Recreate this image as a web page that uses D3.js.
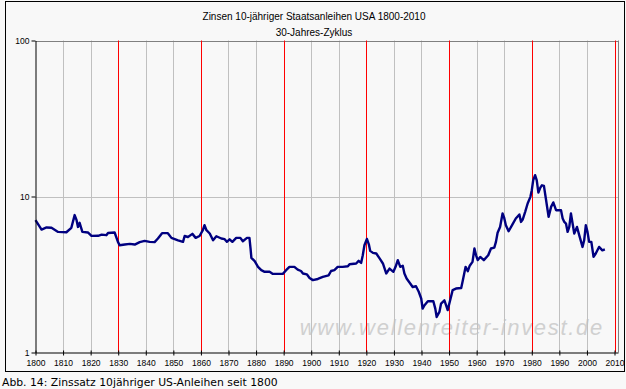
<!DOCTYPE html>
<html>
<head>
<meta charset="utf-8">
<script src="https://cdn.jsdelivr.net/npm/d3@7"></script>
<style>
  html, body { margin: 0; padding: 0; background: #f8f8f8; }
  svg { display: block; }
</style>
</head>
<body>
<svg id="chart" width="626" height="389"></svg>
<script>
// ---- DATA ----
const years = [
  1800, 1802.2, 1804, 1805.8, 1808.2, 1811.2, 1813, 1814.2, 1814.9, 1815.4,
  1816, 1817, 1819, 1820.3, 1822.7, 1824, 1825.7, 1826.3, 1828.7, 1829.9,
  1830.5, 1832.4, 1834.2, 1836, 1837.8, 1839.6, 1841.4, 1843.2, 1844.4, 1845.9,
  1848, 1849.3, 1851.7, 1853.5, 1854.1, 1855.3, 1856.9, 1858.1, 1859.5, 1860.7,
  1861.3, 1862, 1863.2, 1864.4, 1865.6, 1867.4, 1868.6, 1869.4, 1870.4, 1871.4,
  1872.8, 1874.3, 1875.2, 1876.7, 1877.6, 1878, 1878.3, 1879.5, 1880.7, 1881.9,
  1883.1, 1884.9, 1886.1, 1889.7, 1890.9, 1892.1, 1893.9, 1895.1, 1896.3, 1897,
  1898.4, 1899.4, 1900.6, 1902.4, 1904.2, 1906.3, 1907.2, 1908.4, 1909.6, 1911.4,
  1913.3, 1913.9, 1916.3, 1917.2, 1918.1, 1918.7, 1919.3, 1920.2, 1920.9, 1921.4,
  1922.4, 1923.6, 1924.8, 1926, 1927.2, 1928.4, 1929.8, 1930.6, 1931.4, 1932.3,
  1933.2, 1933.8, 1934.6, 1935.9, 1936.8, 1938, 1939, 1939.9, 1940.4, 1941.1,
  1942.3, 1944.3, 1945, 1945.5, 1946.5, 1947.1, 1948.3, 1948.9, 1949.5, 1950.1,
  1951.3, 1952.5, 1954.4, 1955, 1956, 1956.8, 1957.5, 1958.5, 1959.2, 1959.8,
  1960.4, 1961.3, 1962.6, 1964.2, 1965.2, 1966.4, 1967, 1967.6, 1968.5, 1969.4,
  1970, 1970.6, 1971.6, 1973, 1974.2, 1975.5, 1976.1, 1976.7, 1977.6, 1978.5,
  1979.5, 1980, 1980.5, 1981.2, 1981.8, 1982.4, 1983.1, 1983.7, 1984.4, 1985.1,
  1986.1, 1987, 1987.8, 1988.8, 1990.6, 1991.2, 1991.8, 1992.4, 1993, 1993.6,
  1994.2, 1994.8, 1995.4, 1996.4, 1997.2, 1998.4, 1999, 1999.6, 2000.2, 2000.8,
  2001.6, 2002.4, 2003.2, 2004.4, 2005.6, 2006.5
];
const yields = [
  7.05, 6.14, 6.33, 6.3, 5.93, 5.9, 6.3, 7.6, 7.05, 6.38,
  6.78, 5.93, 5.88, 5.59, 5.6, 5.7, 5.65, 5.84, 5.88, 5.12,
  4.87, 4.92, 4.97, 4.92, 5.1, 5.19, 5.12, 5.1, 5.38, 5.82,
  5.82, 5.43, 5.24, 5.12, 5.58, 5.5, 5.76, 5.43, 5.58, 6.08,
  6.55, 6.08, 5.79, 5.24, 5.56, 5.38, 5.33, 5.12, 5.32, 5.12,
  5.43, 5.43, 5.17, 5.43, 5.43, 4.64, 4.04, 3.85, 3.54, 3.37,
  3.29, 3.29, 3.19, 3.19, 3.37, 3.54, 3.54, 3.4, 3.33, 3.21,
  3.17, 3.0, 2.91, 2.96, 3.05, 3.12, 3.33, 3.37, 3.54, 3.54,
  3.57, 3.68, 3.72, 3.87, 3.75, 4.2, 4.87, 5.35, 4.94, 4.48,
  4.35, 4.31, 4.01, 3.72, 3.21, 3.45, 3.29, 3.54, 3.91, 3.54,
  3.6, 3.21, 2.98, 2.77, 2.63, 2.66, 2.45, 2.22, 1.91, 2.01,
  2.13, 2.13, 1.91, 1.69, 1.82, 2.06, 2.16, 2.01, 1.87, 2.06,
  2.51, 2.57, 2.59, 2.91, 3.54, 3.32, 3.6, 3.81, 4.64, 4.2,
  3.91, 4.1, 3.91, 4.2, 4.64, 4.7, 5.12, 5.85, 6.38, 7.78,
  7.29, 6.55, 5.99, 6.62, 7.23, 7.67, 6.87, 7.12, 7.97, 9.02,
  9.95, 10.97, 12.7, 13.7, 12.7, 10.6, 11.4, 11.8, 11.7, 9.71,
  7.4, 8.58, 9.16, 8.17, 8.17, 7.23, 6.87, 6.71, 5.93, 6.38,
  7.78, 6.71, 5.79, 6.38, 5.65, 4.75, 5.24, 6.55, 5.93, 5.12,
  5.12, 4.1, 4.31, 4.75, 4.52, 4.58
];
const xTicks = d3.range(1800, 2011, 10);
const cycleYears = [1830, 1860, 1890, 1920, 1950, 1980, 2010];
const yTicks = [1, 10, 100];
const titleLines = ["Zinsen 10-jähriger Staatsanleihen USA 1800-2010", "30-Jahres-Zyklus"];
const caption = "Abb. 14: Zinssatz 10jähriger US-Anleihen seit 1800";
const watermark = "www.wellenreiter-invest.de";

// ---- LAYOUT ----
const svg = d3.select("#chart");
const plot = { left: 35.5, right: 618.5, top: 40.5, bottom: 352.5 };
const font = "'Liberation Sans', Arial, sans-serif";

const x = d3.scaleLinear().domain([1800, 2010]).range([plot.left, 614.5]);
const y = d3.scaleLog().domain([1, 100]).range([plot.bottom, plot.top]);

// outer frame
svg.append("rect")
  .attr("x", 5.5).attr("y", 1.5)
  .attr("width", 619).attr("height", 370)
  .attr("fill", "#f8f8f8")
  .attr("stroke", "#000")
  .attr("stroke-width", 1);

// title
svg.selectAll("text.title")
  .data(titleLines)
  .join("text")
  .attr("class", "title")
  .attr("x", 314)
  .attr("y", (d, i) => 20 + i * 15.5)
  .attr("text-anchor", "middle")
  .attr("font-family", font)
  .attr("font-size", 10)
  .text(d => d);

// watermark
svg.append("text")
  .attr("x", 604)
  .attr("y", 335)
  .attr("text-anchor", "end")
  .attr("font-family", font)
  .attr("font-style", "italic")
  .attr("font-size", 22)
  .attr("letter-spacing", 1.7)
  .attr("fill", "#d0d0d0")
  .text(watermark);

// vertical grid
svg.append("g")
  .selectAll("line")
  .data(xTicks.filter(d => d > 1800 && !cycleYears.includes(d)))
  .join("line")
  .attr("x1", d => Math.round(x(d)) + 0.5)
  .attr("x2", d => Math.round(x(d)) + 0.5)
  .attr("y1", plot.top)
  .attr("y2", plot.bottom)
  .attr("stroke", "#c0c0c0");

// horizontal grid
svg.append("g")
  .selectAll("line")
  .data(yTicks.filter(d => d > 1))
  .join("line")
  .attr("x1", plot.left)
  .attr("x2", plot.right)
  .attr("y1", d => Math.round(y(d)) + 0.5)
  .attr("y2", d => Math.round(y(d)) + 0.5)
  .attr("stroke", d => d === 100 ? "#808080" : "#c0c0c0");

// right edge of plot
svg.append("line")
  .attr("x1", plot.right).attr("x2", plot.right)
  .attr("y1", plot.top).attr("y2", plot.bottom)
  .attr("stroke", "#808080");

// 30-year cycle lines
svg.append("g")
  .selectAll("line")
  .data(cycleYears)
  .join("line")
  .attr("x1", d => Math.round(x(d)) + 0.5)
  .attr("x2", d => Math.round(x(d)) + 0.5)
  .attr("y1", plot.top)
  .attr("y2", plot.bottom)
  .attr("stroke", "#ff0000");

// data line
const line = d3.line()
  .x((d, i) => x(years[i]))
  .y(d => y(d));

svg.append("path")
  .datum(yields)
  .attr("fill", "none")
  .attr("stroke", "#000080")
  .attr("stroke-width", 2.4)
  .attr("stroke-linejoin", "round")
  .attr("d", line);

// axes
const xAxis = d3.axisBottom(x)
  .tickValues(xTicks)
  .tickFormat(d3.format("d"))
  .tickSizeInner(3)
  .tickSizeOuter(0);

const gx = svg.append("g")
  .attr("transform", `translate(0,${plot.bottom})`)
  .call(xAxis);
gx.select(".domain").attr("d", `M${plot.left},0.5H${plot.right}`);
gx.selectAll(".tick line").attr("y1", -2).attr("y2", 3);
gx.selectAll("text")
  .attr("y", 7)
  .attr("font-family", font)
  .attr("font-size", 8.5)
  .attr("fill", "#000");

const yAxis = d3.axisLeft(y)
  .tickValues(yTicks)
  .tickFormat(d3.format("d"))
  .tickSizeInner(4)
  .tickSizeOuter(0);

const gy = svg.append("g")
  .attr("transform", `translate(${plot.left},0)`)
  .call(yAxis);
gy.selectAll(".tick line").attr("x1", 0);
gy.selectAll("text")
  .attr("x", -6)
  .attr("font-family", font)
  .attr("font-size", 8.5)
  .attr("fill", "#000");

// caption
svg.append("text")
  .attr("x", 2)
  .attr("y", 386)
  .attr("font-family", "'DejaVu Sans', Verdana, sans-serif")
  .attr("font-size", 10.8)
  .text(caption);
</script>
</body>
</html>
